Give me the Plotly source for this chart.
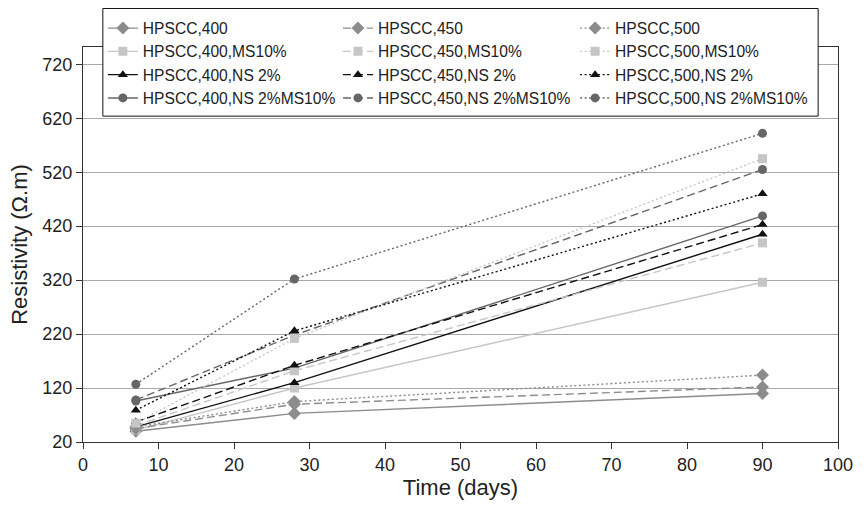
import plotly.graph_objects as go

# Sampling ages (days)
days = [7, 28, 90]

# Electrical resistivity (Ω.m) for each mix
hpscc_400 = [40, 73, 110]
hpscc_450 = [45, 90, 122]
hpscc_500 = [48, 95, 144]
hpscc_400_ms = [42, 120, 316]
hpscc_450_ms = [50, 152, 389]
hpscc_500_ms = [55, 212, 545]
hpscc_400_ns = [48, 130, 405]
hpscc_450_ns = [57, 162, 423]
hpscc_500_ns = [79, 226, 480]
hpscc_400_nsms = [96, 157, 439]
hpscc_450_nsms = [98, 218, 525]
hpscc_500_nsms = [127, 322, 592]

x_ticks = [0, 10, 20, 30, 40, 50, 60, 70, 80, 90, 100]
y_ticks = [20, 120, 220, 320, 420, 520, 620, 720]

# Styling per group: (marker symbol, colour, marker size)
groups = {
    "plain": ("diamond", "#8c8c8c", 10),
    "ms": ("square", "#c6c6c6", 9),
    "ns": ("triangle-up", "#111111", 9),
    "nsms": ("circle", "#666666", 9),
}
dashes = {"400": "solid", "450": "8px,4px", "500": "2px,2.5px"}
# one legend column per cement content
legend_of = {"400": "legend", "450": "legend2", "500": "legend3"}

series = [
    ("HPSCC,400", hpscc_400, "plain", "400"),
    ("HPSCC,400,MS10%", hpscc_400_ms, "ms", "400"),
    ("HPSCC,400,NS 2%", hpscc_400_ns, "ns", "400"),
    ("HPSCC,400,NS 2%MS10%", hpscc_400_nsms, "nsms", "400"),
    ("HPSCC,450", hpscc_450, "plain", "450"),
    ("HPSCC,450,MS10%", hpscc_450_ms, "ms", "450"),
    ("HPSCC,450,NS 2%", hpscc_450_ns, "ns", "450"),
    ("HPSCC,450,NS 2%MS10%", hpscc_450_nsms, "nsms", "450"),
    ("HPSCC,500", hpscc_500, "plain", "500"),
    ("HPSCC,500,MS10%", hpscc_500_ms, "ms", "500"),
    ("HPSCC,500,NS 2%", hpscc_500_ns, "ns", "500"),
    ("HPSCC,500,NS 2%MS10%", hpscc_500_nsms, "nsms", "500"),
]

fig = go.Figure()
for name, vals, grp, cem in series:
    sym, col, size = groups[grp]
    fig.add_trace(go.Scatter(
        x=days, y=vals, name=name, mode="lines+markers",
        line=dict(color=col, width=1.4, dash=dashes[cem]),
        marker=dict(symbol=sym, color=col, size=size),
        legend=legend_of[cem],
    ))

font_family = "Liberation Sans, Arial, sans-serif"
legend_font = dict(size=15.6, family=font_family, color="#222222")


def column_legend(xpos):
    return dict(
        orientation="v", x=xpos, xanchor="left", y=1.09, yanchor="top",
        bgcolor="rgba(0,0,0,0)", borderwidth=0, tracegroupgap=0,
        font=legend_font, traceorder="normal",
    )


fig.update_layout(
    width=865, height=507,
    margin=dict(l=83, r=21, t=45, b=62),
    paper_bgcolor="white", plot_bgcolor="white",
    font=dict(family=font_family, size=18, color="#222222"),
    showlegend=True,
    legend=column_legend(0.0263),
    legend2=column_legend(0.3377),
    legend3=column_legend(0.6518),
    shapes=[dict(
        type="rect", xref="paper", yref="paper",
        x0=0.0263, x1=0.9737, y0=0.825, y1=1.0975,
        line=dict(color="#111111", width=1), fillcolor="white",
        layer="above",
    )],
    xaxis=dict(
        range=[0, 100], tickvals=x_ticks, ticks="outside", ticklen=6,
        tickcolor="#333333", showline=True, linecolor="#333333", linewidth=1.2,
        mirror=True, showgrid=False, zeroline=False,
        title=dict(text="Time (days)", standoff=5),
    ),
    yaxis=dict(
        range=[20, 752], tickvals=y_ticks, ticks="outside", ticklen=6,
        tickcolor="#333333", showline=True, linecolor="#333333", linewidth=1.2,
        mirror=True, showgrid=True, gridcolor="#a8a8a8", gridwidth=1.2,
        zeroline=False,
        title=dict(text="Resistivity (Ω.m)", standoff=8),
    ),
)

fig.write_html("out.html")
